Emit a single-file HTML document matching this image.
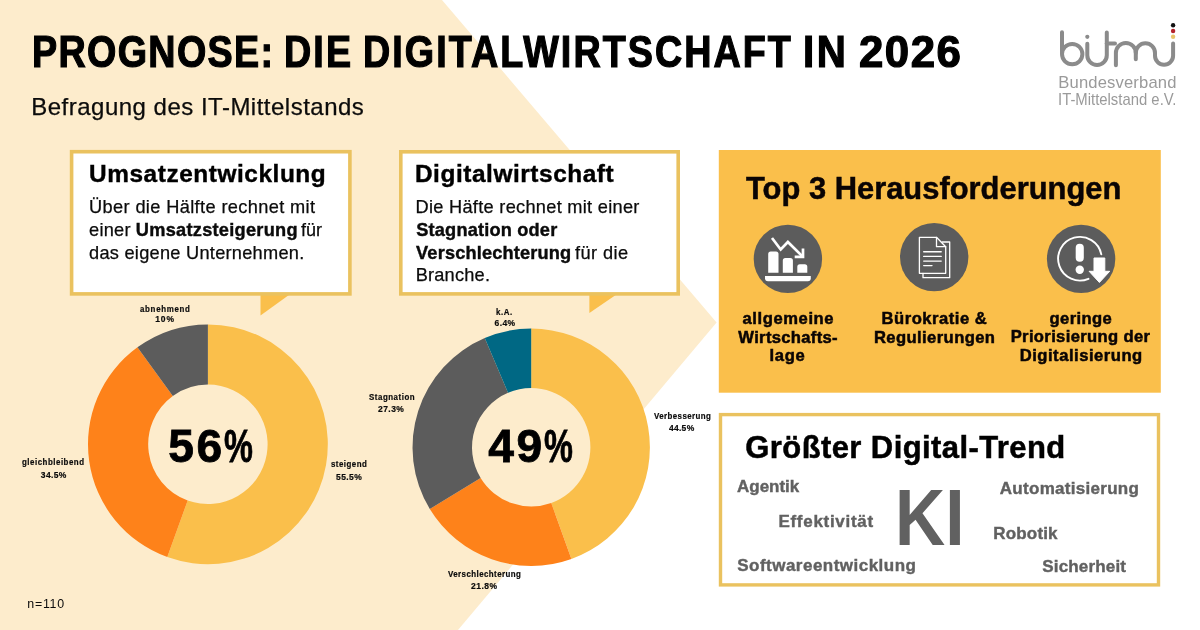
<!DOCTYPE html>
<html lang="de">
<head>
<meta charset="utf-8">
<title>Prognose: Die Digitalwirtschaft in 2026</title>
<style>
*{box-sizing:border-box;margin:0;padding:0}
html,body{width:1200px;height:630px;overflow:hidden;background:#fff}
body{position:relative;font-family:"Liberation Sans",sans-serif;color:#0b0b0b}
.t{position:absolute;display:block;white-space:nowrap;line-height:1;font-weight:700;transform-origin:0 0}
.abs{position:absolute;left:0;top:0}
h1,h2,h3,p,figure,figcaption,header,section,div,ul,li{position:absolute;left:0;top:0;font-weight:inherit;font-size:inherit;list-style:none}
#bg{position:absolute;left:0;top:0;width:1200px;height:630px}
</style>
</head>
<body>
<svg id="bg" width="1200" height="630" viewBox="0 0 1200 630" aria-hidden="true">
<polygon fill="#FDECCC" points="0,0 442,0 716.6,322.5 458,630 0,630"/>
<polygon fill="#FABF4B" points="260.5,294 290.3,294 260.5,315.6"/>
<polygon fill="#FABF4B" points="589.4,294 617.2,294 589.4,313"/>
<rect x="71.6" y="151.7" width="278.3" height="142.2" fill="#fff" stroke="#EAC25F" stroke-width="3.6"/>
<rect x="400.8" y="151.8" width="277.4" height="142.1" fill="#fff" stroke="#EAC25F" stroke-width="3.6"/>
<rect x="718.8" y="150" width="442" height="242.7" fill="#FABF4B"/>
<rect x="720.5" y="414.6" width="438" height="170.3" fill="#fff" stroke="#EAC25F" stroke-width="3.4"/>
</svg>
<svg class="abs" width="1200" height="630" viewBox="0 0 1200 630" aria-hidden="true">
<!-- donut charts -->
<g id="donut1">
<path fill="#FABF4B" d="M207.90 324.40A119.9 119.9 0 1 1 167.29 557.11L187.68 500.47A59.7 59.7 0 1 0 207.90 384.60Z"/>
<path fill="#FE821A" d="M167.29 557.11A119.9 119.9 0 0 1 137.42 347.30L172.81 396.00A59.7 59.7 0 0 0 187.68 500.47Z"/>
<path fill="#5C5C5C" d="M137.42 347.30A119.9 119.9 0 0 1 207.90 324.40L207.90 384.60A59.7 59.7 0 0 0 172.81 396.00Z"/>
</g>
<g id="donut2">
<path fill="#FABF4B" d="M531.20 328.60A118.7 118.7 0 0 1 571.41 558.98L551.25 503.00A59.2 59.2 0 0 0 531.20 388.10Z"/>
<path fill="#FE821A" d="M571.41 558.98A118.7 118.7 0 0 1 429.80 509.00L480.63 478.07A59.2 59.2 0 0 0 551.25 503.00Z"/>
<path fill="#5C5C5C" d="M429.80 509.00A118.7 118.7 0 0 1 484.74 338.07L508.03 392.82A59.2 59.2 0 0 0 480.63 478.07Z"/>
<path fill="#006884" d="M484.74 338.07A118.7 118.7 0 0 1 531.20 328.60L531.20 388.10A59.2 59.2 0 0 0 508.03 392.82Z"/>
</g>
<!-- icon 1: declining bar chart -->
<g transform="translate(787.9 258.9)">
<circle r="34.2" fill="#5C5C5C"/>
<g fill="#fff">
<path d="M-22.9 17.1H22.9V19.3A3 3 0 0 1 19.9 22.3H-19.9A3 3 0 0 1 -22.9 19.3Z"/>
<path d="M-19.7 13.9V-4.9A2.5 2.5 0 0 1 -17.2 -7.4H-11.9A2.5 2.5 0 0 1 -9.4 -4.9V13.9Z"/>
<path d="M-5.1 13.9V1.6A2.5 2.5 0 0 1 -2.6 -0.9H2.5A2.5 2.5 0 0 1 5 1.6V13.9Z"/>
<path d="M9.4 13.9V7.9A2.5 2.5 0 0 1 11.9 5.4H16.9A2.5 2.5 0 0 1 19.4 7.9V13.9Z"/>
</g>
<g fill="none" stroke="#fff" stroke-width="2.7" stroke-linejoin="miter">
<path d="M-15.9 -20.9L-7.2 -9.4L0 -16.9L14.6 -2.5"/>
<path d="M15.1 -10.3V-2H6.8"/>
</g>
</g>
<!-- icon 2: documents -->
<g transform="translate(934.2 257.1)">
<circle r="34.2" fill="#5C5C5C"/>
<g fill="none" stroke="#fff" stroke-width="1.3" stroke-linejoin="round" stroke-linecap="round">
<path d="M-14.8 -19.8H2.3L11.5 -10.4V16.2H-14.8Z"/>
<path d="M2.3 -19.8V-10.4H11.5"/>
<path d="M8 -15.1H15.5V20.6H-11.2V16.2"/>
<path d="M-10.5 -5.3H7M-10.5 -0.7H7M-10.5 4H7M-10.5 8.5H-2.2" stroke-width="1.4"/>
</g>
</g>
<!-- icon 3: low priority -->
<g transform="translate(1081.1 258.9)">
<circle r="34.2" fill="#5C5C5C"/>
<path fill="none" stroke="#fff" stroke-width="1.9" stroke-linecap="round" d="M20.2 -4.55A21.8 21.8 0 1 0 7.37 19.87"/>
<rect x="-5.4" y="-15.2" width="8.1" height="18" rx="4" fill="#fff"/>
<circle cx="-1.35" cy="10.8" r="4.2" fill="#fff"/>
<path fill="#fff" stroke="#fff" stroke-width="1" stroke-linejoin="round" d="M12.9 -0.9H23.7V12.4H28.6L18.3 23.6L8 12.4H12.9Z"/>
</g>
<!-- bitmi logo -->
<g id="logo" fill="none" stroke="#8b8b8b" stroke-width="4" stroke-linecap="round" stroke-linejoin="round">
<path d="M1062 32.3V54.1A10.2 10.2 0 1 0 1072.2 43.9A10.2 10.2 0 0 0 1062 54.1"/>
<path d="M1087.3 43.8V55.3A9.75 9.75 0 0 0 1106.8 55.3V32.5"/>
<path d="M1106.8 43.6H1115"/>
<path d="M1115.9 65.2V52.9A9.95 9.95 0 0 1 1135.8 52.9V59.3"/>
<path d="M1135.8 52.9A9.6 9.6 0 0 1 1155 52.9V55.8A9.05 9.05 0 0 0 1173.1 55.8V43.6"/>
</g>
<circle cx="1087.3" cy="36.8" r="2.1" fill="#8b8b8b"/>
<circle cx="1173.1" cy="25.3" r="2.2" fill="#111"/>
<circle cx="1173.1" cy="31" r="2.2" fill="#b5232c"/>
<circle cx="1173.1" cy="36.8" r="2.2" fill="#e9c46a"/>
</svg>

<header>
<h1><span class="t" style="left:31.77px;top:30px;font-size:43.8px;letter-spacing:1.584px;transform:scaleX(0.8600);color:#000;-webkit-text-stroke:1.2px #000">PROGNOSE:</span>
<span class="t" style="left:283.87px;top:30px;font-size:43.8px;letter-spacing:2.451px;transform:scaleX(0.8600);color:#000;-webkit-text-stroke:1.2px #000">DIE</span>
<span class="t" style="left:362.76px;top:30px;font-size:43.8px;letter-spacing:2.404px;transform:scaleX(0.8600);color:#000;-webkit-text-stroke:1.2px #000">DIGITALWIRTSCHAFT</span>
<span class="t" style="left:802.63px;top:30px;font-size:43.8px;letter-spacing:2.707px;transform:scaleX(0.9200);color:#000;-webkit-text-stroke:1.2px #000">IN</span>
<span class="t" style="left:859.00px;top:30px;font-size:43.8px;letter-spacing:1.500px;transform:scaleX(1.0000);color:#000;-webkit-text-stroke:1.2px #000">2026</span></h1>
<p class="sub"><span class="t" style="left:31.25px;top:95px;font-size:24px;letter-spacing:0.491px;font-weight:400;-webkit-text-stroke:0.25px #0b0b0b">Befragung des IT-Mittelstands</span></p>
</header>
<div class="logo"><span class="t" style="left:1058.35px;top:75px;font-size:16.6px;letter-spacing:0.150px;font-weight:400;color:#9a9a9a">Bundesverband</span>
<span class="t" style="left:1058.26px;top:92px;font-size:16.6px;transform:scaleX(0.8959);font-weight:400;color:#9a9a9a">IT-Mittelstand e.V.</span></div>
<section class="blk b1">
<h2><span class="t" style="left:89.05px;top:162px;font-size:24.4px;letter-spacing:0.562px;color:#000;-webkit-text-stroke:0.4px #000">Umsatzentwicklung</span></h2>
<p><span class="t" style="left:89.05px;top:198px;font-size:18.2px;letter-spacing:0.373px;font-weight:400;-webkit-text-stroke:0.25px #0b0b0b">Über die Hälfte rechnet mit</span>
<span class="t" style="left:89.00px;top:221px;font-size:18.2px;letter-spacing:0.263px;font-weight:400;-webkit-text-stroke:0.25px #0b0b0b">einer</span>
<span class="t" style="left:135.80px;top:221px;font-size:18.2px;letter-spacing:0.277px;-webkit-text-stroke:0.4px #0b0b0b">Umsatzsteigerung</span>
<span class="t" style="left:301.40px;top:221px;font-size:18.2px;transform:scaleX(0.9905);font-weight:400;-webkit-text-stroke:0.25px #0b0b0b">für</span>
<span class="t" style="left:89.00px;top:244px;font-size:18.2px;letter-spacing:0.270px;font-weight:400;-webkit-text-stroke:0.25px #0b0b0b">das eigene Unternehmen.</span></p>
</section>
<section class="blk b2">
<h2><span class="t" style="left:414.90px;top:162px;font-size:24.4px;letter-spacing:0.566px;color:#000;-webkit-text-stroke:0.4px #000">Digitalwirtschaft</span></h2>
<p><span class="t" style="left:415.55px;top:198px;font-size:18.2px;letter-spacing:0.288px;font-weight:400;-webkit-text-stroke:0.25px #0b0b0b">Die Häfte rechnet mit einer</span>
<span class="t" style="left:416.25px;top:221px;font-size:18.2px;letter-spacing:0.182px;-webkit-text-stroke:0.4px #0b0b0b">Stagnation oder</span>
<span class="t" style="left:416.05px;top:244px;font-size:18.2px;letter-spacing:0.170px;-webkit-text-stroke:0.4px #0b0b0b">Verschlechterung</span>
<span class="t" style="left:575.10px;top:244px;font-size:18.2px;letter-spacing:0.400px;font-weight:400;-webkit-text-stroke:0.25px #0b0b0b">für die</span>
<span class="t" style="left:415.65px;top:266px;font-size:18.2px;letter-spacing:0.214px;font-weight:400;-webkit-text-stroke:0.25px #0b0b0b">Branche.</span></p>
</section>
<figure class="chart ch1">
<figcaption><span class="t" style="left:140.47px;top:305px;font-size:8.5px;letter-spacing:0.751px;transform:scaleX(0.9300);-webkit-text-stroke:0.2px #0b0b0b">abnehmend</span>
<span class="t" style="left:155.30px;top:315px;font-size:8.5px;letter-spacing:0.850px;-webkit-text-stroke:0.2px #0b0b0b">10%</span>
<span class="t" style="left:22.47px;top:458px;font-size:8.5px;letter-spacing:0.551px;transform:scaleX(0.9300);-webkit-text-stroke:0.2px #0b0b0b">gleichbleibend</span>
<span class="t" style="left:40.80px;top:471px;font-size:8.5px;letter-spacing:0.363px;-webkit-text-stroke:0.2px #0b0b0b">34.5%</span>
<span class="t" style="left:331.27px;top:460px;font-size:8.5px;letter-spacing:0.514px;transform:scaleX(0.9300);-webkit-text-stroke:0.2px #0b0b0b">steigend</span>
<span class="t" style="left:336.00px;top:473px;font-size:8.5px;letter-spacing:0.425px;-webkit-text-stroke:0.2px #0b0b0b">55.5%</span></figcaption>
<div class="blk"><span class="t" style="left:168.30px;top:423px;font-size:46.2px;letter-spacing:2.400px;color:#000;-webkit-text-stroke:0.8px #000">56</span><span class="t" style="left:223.77px;top:423px;font-size:46.2px;transform:scaleX(0.7038);color:#000;-webkit-text-stroke:0.8px #000">%</span></div>
</figure>
<figure class="chart ch2">
<figcaption><span class="t" style="left:496.34px;top:308px;font-size:8.5px;letter-spacing:0.639px;transform:scaleX(0.9300);-webkit-text-stroke:0.2px #0b0b0b">k.A.</span>
<span class="t" style="left:494.55px;top:319px;font-size:8.5px;letter-spacing:0.400px;-webkit-text-stroke:0.2px #0b0b0b">6.4%</span>
<span class="t" style="left:368.77px;top:393px;font-size:8.5px;letter-spacing:0.571px;transform:scaleX(0.9300);-webkit-text-stroke:0.2px #0b0b0b">Stagnation</span>
<span class="t" style="left:378.05px;top:405px;font-size:8.5px;letter-spacing:0.425px;-webkit-text-stroke:0.2px #0b0b0b">27.3%</span>
<span class="t" style="left:653.70px;top:412px;font-size:8.5px;letter-spacing:0.445px;transform:scaleX(0.9300);-webkit-text-stroke:0.2px #0b0b0b">Verbesserung</span>
<span class="t" style="left:668.90px;top:424px;font-size:8.5px;letter-spacing:0.300px;-webkit-text-stroke:0.2px #0b0b0b">44.5%</span>
<span class="t" style="left:448.00px;top:570px;font-size:8.5px;letter-spacing:0.466px;transform:scaleX(0.9300);-webkit-text-stroke:0.2px #0b0b0b">Verschlechterung</span>
<span class="t" style="left:471.05px;top:582px;font-size:8.5px;letter-spacing:0.487px;-webkit-text-stroke:0.2px #0b0b0b">21.8%</span></figcaption>
<div class="blk"><span class="t" style="left:488.35px;top:423px;font-size:46.2px;letter-spacing:2.350px;color:#000;-webkit-text-stroke:0.8px #000">49</span><span class="t" style="left:543.77px;top:423px;font-size:46.2px;transform:scaleX(0.7038);color:#000;-webkit-text-stroke:0.8px #000">%</span></div>
</figure>
<p class="note"><span class="t" style="left:27.35px;top:598px;font-size:12.4px;letter-spacing:0.725px;font-weight:400">n=110</span></p>
<section class="gold">
<h2><span class="t" style="left:745.90px;top:173px;font-size:31.6px;transform:scaleX(0.9779);color:#0a0404;-webkit-text-stroke:0.5px #0a0404">Top 3 Herausforderungen</span></h2>
<ul>
<li><span class="t" style="left:742.45px;top:311px;font-size:16.6px;letter-spacing:0.594px;color:#0a0404;-webkit-text-stroke:0.5px #0a0404">allgemeine</span>
<span class="t" style="left:738.35px;top:330px;font-size:16.6px;letter-spacing:0.318px;color:#0a0404;-webkit-text-stroke:0.5px #0a0404">Wirtschafts-</span>
<span class="t" style="left:769.60px;top:348px;font-size:16.6px;letter-spacing:0.667px;color:#0a0404;-webkit-text-stroke:0.5px #0a0404">lage</span></li>
<li><span class="t" style="left:881.55px;top:311px;font-size:16.6px;letter-spacing:0.518px;color:#0a0404;-webkit-text-stroke:0.5px #0a0404">Bürokratie &amp;</span>
<span class="t" style="left:873.95px;top:330px;font-size:16.6px;letter-spacing:0.408px;color:#0a0404;-webkit-text-stroke:0.5px #0a0404">Regulierungen</span></li>
<li><span class="t" style="left:1049.60px;top:311px;font-size:16.6px;letter-spacing:0.383px;color:#0a0404;-webkit-text-stroke:0.5px #0a0404">geringe</span>
<span class="t" style="left:1010.65px;top:329px;font-size:16.6px;letter-spacing:0.356px;color:#0a0404;-webkit-text-stroke:0.5px #0a0404">Priorisierung der</span>
<span class="t" style="left:1019.65px;top:348px;font-size:16.6px;letter-spacing:0.525px;color:#0a0404;-webkit-text-stroke:0.5px #0a0404">Digitalisierung</span></li>
</ul>
</section>
<section class="cloud">
<h2 class="blk"><span class="t" style="left:745.30px;top:432px;font-size:31px;letter-spacing:0.410px;color:#000;-webkit-text-stroke:0.5px #000">Größter Digital-Trend</span></h2>
<ul>
<li><span class="t" style="left:895.42px;top:478px;font-size:79.7px;transform:scaleX(0.8725);color:#616161">KI</span></li>
<li><span class="t" style="left:737.25px;top:478px;font-size:17px;transform:scaleX(0.9992);color:#616161;-webkit-text-stroke:0.4px #616161">Agentik</span>
<span class="t" style="left:778.40px;top:513px;font-size:17px;letter-spacing:0.718px;color:#616161;-webkit-text-stroke:0.4px #616161">Effektivität</span>
<span class="t" style="left:737.25px;top:557px;font-size:17px;letter-spacing:0.481px;color:#616161;-webkit-text-stroke:0.4px #616161">Softwareentwicklung</span>
<span class="t" style="left:999.75px;top:480px;font-size:17px;letter-spacing:0.293px;color:#616161;-webkit-text-stroke:0.4px #616161">Automatisierung</span>
<span class="t" style="left:993.30px;top:525px;font-size:17px;letter-spacing:0.167px;color:#616161;-webkit-text-stroke:0.4px #616161">Robotik</span>
<span class="t" style="left:1042.25px;top:558px;font-size:17px;letter-spacing:0.167px;color:#616161;-webkit-text-stroke:0.4px #616161">Sicherheit</span></li>
</ul>
</section>
</body>
</html>
